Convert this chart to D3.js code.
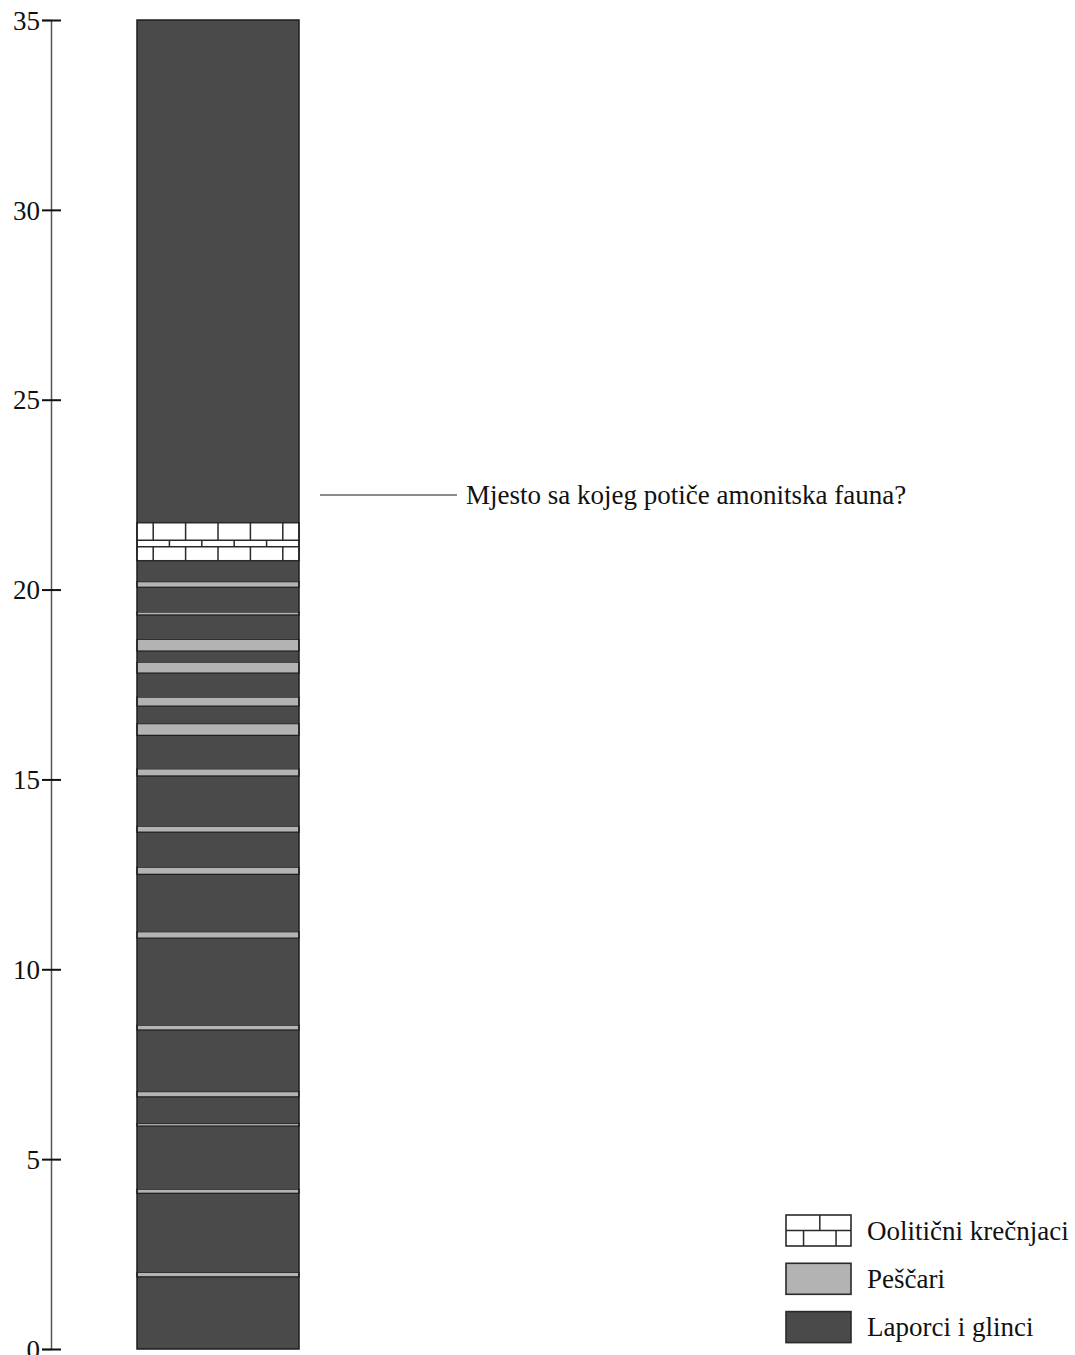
<!DOCTYPE html>
<html>
<head>
<meta charset="utf-8">
<script src="https://cdn.jsdelivr.net/npm/d3@7"></script>
<style>
  html, body { margin: 0; padding: 0; background: #fff; }
  svg { display: block; font-family: "Liberation Serif", "Times New Roman", serif; }
</style>
</head>
<body>
<svg id="chart" width="1075" height="1355"></svg>
<script>
// Lithostratigraphic column (thickness in metres)
const lithologies = ["Oolitični krečnjaci", "Peščari", "Laporci i glinci"];
const lithKeys = ["limestone", "sandstone", "marl"];

// Beds from the base upward: bottom, top (m) and lithology key
const bedBottom = [0, 1.90, 2.02, 4.10, 4.21, 5.87, 5.94, 6.64, 6.78, 8.40, 8.53, 10.82, 10.99,
  12.50, 12.69, 13.61, 13.77, 15.09, 15.28, 16.16, 16.47, 16.93, 17.17, 17.80, 18.09, 18.38,
  18.69, 19.33, 19.41, 20.06, 20.21, 20.76, 21.76];
const bedTop = [1.90, 2.02, 4.10, 4.21, 5.87, 5.94, 6.64, 6.78, 8.40, 8.53, 10.82, 10.99, 12.50,
  12.69, 13.61, 13.77, 15.09, 15.28, 16.16, 16.47, 16.93, 17.17, 17.80, 18.09, 18.38, 18.69,
  19.33, 19.41, 20.06, 20.21, 20.76, 21.76, 35];
const bedLith = ["marl", "sandstone", "marl", "sandstone", "marl", "sandstone", "marl", "sandstone",
  "marl", "sandstone", "marl", "sandstone", "marl", "sandstone", "marl", "sandstone", "marl",
  "sandstone", "marl", "sandstone", "marl", "sandstone", "marl", "sandstone", "marl", "sandstone",
  "marl", "sandstone", "marl", "sandstone", "marl", "limestone", "marl"];

// Internal bedding of the oolitic limestone (m)
const limeSubBottom = [20.76, 21.13, 21.30];
const limeSubTop = [21.13, 21.30, 21.76];

// Axis ticks
const tickValues = [0, 5, 10, 15, 20, 25, 30, 35];

// Annotation
const noteLevel = 22.49;
const noteText = "Mjesto sa kojeg potiče amonitska fauna?";

// ---- styling ----
const fills = { limestone: "#ffffff", sandstone: "#b3b3b3", marl: "#4a4a4a" };
const lineColor = "#1e1e1e";
const fontSize = 27;

const svg = d3.select("#chart");

const y = d3.scaleLinear().domain([0, 35]).range([1349, 20]);
const colLeft = 137, colRight = 299;
const x = d3.scaleLinear().domain([0, 1]).range([colLeft, colRight]);

const beds = bedBottom.map((b, i) => ({ bottom: b, top: bedTop[i], lith: bedLith[i] }));

// ---- axis ----
const axisX = 51;
const axisG = svg.append("g").attr("transform", `translate(${axisX},0)`)
  .call(d3.axisLeft(y).tickValues(tickValues).tickSizeOuter(0).tickSize(9).tickFormat(d3.format("d")));
axisG.select(".domain").attr("stroke", "#555").attr("stroke-width", 1.5);
axisG.selectAll(".tick line").attr("x1", -9).attr("x2", 10).attr("stroke", "#111").attr("stroke-width", 2);
axisG.selectAll(".tick text")
  .attr("x", -11).attr("dy", "0.34em")
  .attr("fill", "#111")
  .style("font-family", "'Liberation Serif', serif")
  .style("font-size", fontSize + "px");

// ---- column ----
const colG = svg.append("g");

// Base fill for whole column (marl)
colG.selectAll("rect.bed")
  .data(beds.filter(d => d.lith !== "limestone"))
  .join("rect")
  .attr("class", "bed")
  .attr("x", x(0))
  .attr("width", x(1) - x(0))
  .attr("y", d => y(d.top))
  .attr("height", d => y(d.bottom) - y(d.top))
  .attr("fill", d => fills[d.lith])
  .attr("stroke", d => d.lith === "sandstone" ? lineColor : "none")
  .attr("stroke-width", 1.3);

// Oolitic limestone with brick pattern
const lime = beds.filter(d => d.lith === "limestone");
lime.forEach(bed => {
  colG.append("rect")
    .attr("x", x(0)).attr("width", x(1) - x(0))
    .attr("y", y(bed.top)).attr("height", y(bed.bottom) - y(bed.top))
    .attr("fill", fills.limestone).attr("stroke", "#2a2a2a").attr("stroke-width", 1.5);
});
const nBricks = 5;
limeSubBottom.forEach((b, i) => {
  const t = limeSubTop[i];
  const yTop = y(t), yBot = y(b);
  // bedding plane
  if (i > 0) {
    colG.append("line")
      .attr("x1", x(0)).attr("x2", x(1)).attr("y1", yBot).attr("y2", yBot)
      .attr("stroke", "#2a2a2a").attr("stroke-width", 1.5);
  }
  const offset = (i % 2 === 0) ? 0.5 : 0;
  const joints = d3.range(nBricks + 1).map(k => (k + offset) / nBricks).filter(f => f > 0.01 && f < 0.99);
  colG.selectAll(null).data(joints).join("line")
    .attr("x1", d => x(d)).attr("x2", d => x(d))
    .attr("y1", yTop).attr("y2", yBot)
    .attr("stroke", "#2a2a2a").attr("stroke-width", 1.5);
});

// Column outline
colG.append("rect")
  .attr("x", x(0)).attr("width", x(1) - x(0))
  .attr("y", y(35)).attr("height", y(0) - y(35))
  .attr("fill", "none").attr("stroke", lineColor).attr("stroke-width", 1.5);

// ---- annotation ----
svg.append("line")
  .attr("x1", 320).attr("x2", 457)
  .attr("y1", y(noteLevel)).attr("y2", y(noteLevel))
  .attr("stroke", "#666").attr("stroke-width", 1.6);
svg.append("text")
  .attr("x", 466).attr("y", y(noteLevel)).attr("dy", "0.34em")
  .attr("fill", "#111").style("font-size", fontSize + "px")
  .text(noteText);

// ---- legend ----
const legX = 786, legY0 = 1215, legStep = 48.3, boxW = 65, boxH = 31;
const leg = svg.append("g").selectAll("g").data(lithKeys).join("g")
  .attr("transform", (d, i) => `translate(${legX},${legY0 + i * legStep})`);
leg.append("rect")
  .attr("width", boxW).attr("height", boxH)
  .attr("fill", d => fills[d]).attr("stroke", "#2a2a2a").attr("stroke-width", 1.6);
leg.filter(d => d === "limestone").each(function () {
  const g = d3.select(this);
  g.append("line").attr("x1", 0).attr("x2", boxW).attr("y1", boxH / 2).attr("y2", boxH / 2)
    .attr("stroke", "#2a2a2a").attr("stroke-width", 1.5);
  [[0.52, 0, boxH / 2], [0.27, boxH / 2, boxH], [0.77, boxH / 2, boxH]].forEach(([f, a, b]) => {
    g.append("line").attr("x1", f * boxW).attr("x2", f * boxW).attr("y1", a).attr("y2", b)
      .attr("stroke", "#2a2a2a").attr("stroke-width", 1.5);
  });
});
leg.append("text")
  .attr("x", 81).attr("y", boxH / 2).attr("dy", "0.34em")
  .attr("fill", "#111").style("font-size", fontSize + "px")
  .text((d, i) => lithologies[i]);
</script>
</body>
</html>
